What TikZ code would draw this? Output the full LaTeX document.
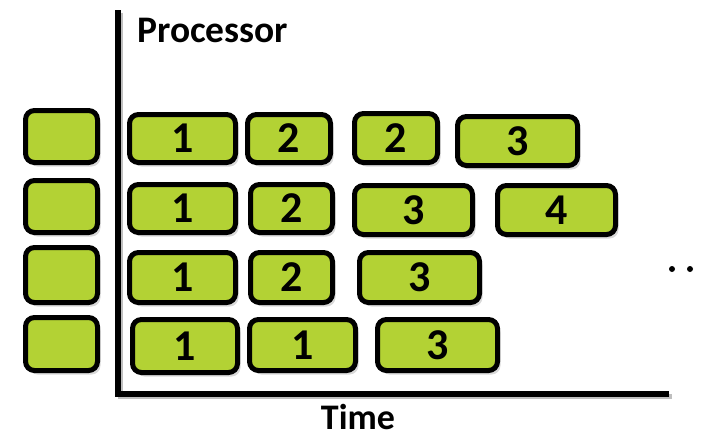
\documentclass[tikz,border=0pt]{standalone}
\usepackage{fontspec}
\setmainfont{Carlito}
\usetikzlibrary{calc,shadows}
\definecolor{taskgreen}{RGB}{179,210,52}

\begin{document}
\begin{tikzpicture}[x=1pt, y=-1pt,
		slot/.style={draw, line width=5pt, rounded corners=9pt, fill=taskgreen, inner sep=0pt,
			drop shadow={shadow xshift=3pt, shadow yshift=-4pt, opacity=0.3}},
		task/.style={slot, font=\bfseries\fontsize{44}{44}\selectfont},
		axis/.style={line width=5.5pt},
		caption/.style={font=\bfseries\fontsize{36}{36}\selectfont, inner sep=0pt}]
		%%%%% START %%%%%
		
		\useasboundingbox (0, 0) rectangle (705, 437);
		
		% axes
		\coordinate (top) at (118, 10);
		\coordinate (origin) at (118, 394);
		\coordinate (right) at (669, 394);
		\draw[axis, color=black!25] ($(top)+(2.5, 2.5)$) -- ($(origin)+(2.5, 2.5)$) -- ($(right)+(2.5, 2.5)$);
		\draw[axis] (top) -- (origin) -- (right);
		
		\node[caption, anchor=base west, font=\bfseries\fontsize{37.5}{37.5}\selectfont] (proc) at (137, 42) {Processor};
		\node[caption, anchor=base] (time) at (358, 429) {Time};
		
		% queue slots
		\node[slot, minimum width=72, minimum height=52] (q1) at (61.5, 136.5) {};
		\node[slot, minimum width=72, minimum height=52] (q2) at (61.5, 206.5) {};
		\node[slot, minimum width=72, minimum height=55] (q3) at (61.5, 275) {};
		\node[slot, minimum width=72, minimum height=53] (q4) at (61.5, 344) {};
		
		% first processor
		\node[task, minimum width=106, minimum height=48] (p1a) at (182.5, 138.5) {1};
		\node[task, minimum width=83, minimum height=48] (p1b) at (289, 138.5) {2};
		\node[task, minimum width=83, minimum height=49] (p1c) at (396, 138) {2};
		\node[task, minimum width=120, minimum height=49] (p1d) at (517.5, 141) {3};
		
		% second processor
		\node[task, minimum width=106, minimum height=48] (p2a) at (182.5, 208.5) {1};
		\node[task, minimum width=82, minimum height=48] (p2b) at (291.5, 208.5) {2};
		\node[task, minimum width=118, minimum height=49] (p2c) at (413.5, 210) {3};
		\node[task, minimum width=118, minimum height=49] (p2d) at (556.5, 210) {4};
		
		% third processor
		\node[task, minimum width=106, minimum height=50] (p3a) at (182.5, 277.5) {1};
		\node[task, minimum width=82, minimum height=50] (p3b) at (291.5, 277.5) {2};
		\node[task, minimum width=120, minimum height=50] (p3c) at (419.5, 277.5) {3};
		
		% fourth processor
		\node[task, minimum width=105, minimum height=53] (p4a) at (185, 346) {1};
		\node[task, minimum width=106, minimum height=51] (p4b) at (302.5, 345) {1};
		\node[task, minimum width=120, minimum height=51] (p4c) at (437.5, 345) {3};
		
		% more to come
		\foreach \x in {672, 690, 708}
			\fill (\x, 269) circle (3);
		
		%%%%% END %%%%%
\end{tikzpicture}
\end{document}
